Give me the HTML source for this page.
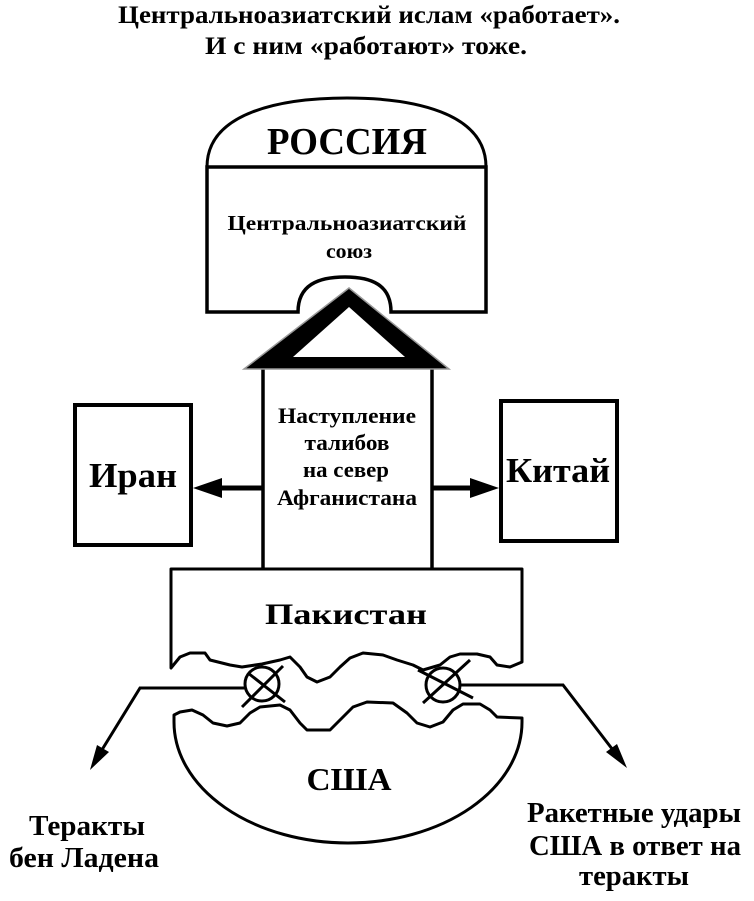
<!DOCTYPE html>
<html>
<head>
<meta charset="utf-8">
<style>
html,body{margin:0;padding:0;background:#fff;}
svg{display:block;}
text{font-family:"Liberation Serif","DejaVu Serif",serif;font-weight:bold;fill:#000;}
</style>
</head>
<body>
<svg width="754" height="901" viewBox="0 0 754 901" xmlns="http://www.w3.org/2000/svg">
<rect width="754" height="901" fill="#fff"/>

<!-- Title -->
<text x="369" y="23" font-size="25" text-anchor="middle" textLength="502" lengthAdjust="spacingAndGlyphs">Центральноазиатский ислам «работает».</text>
<text x="366" y="54" font-size="25" text-anchor="middle" textLength="322" lengthAdjust="spacingAndGlyphs">И с ним «работают» тоже.</text>

<!-- Russia -->
<path d="M207,167 C207,112 282,98 347,98 C412,98 486,112 486,167" fill="none" stroke="#000" stroke-width="3"/>
<path d="M207,167 L486,167 L486,312 L391,312 C391,285 372,277 345,277 C318,277 298,285 298,312 L207,312 Z" fill="#fff" stroke="#000" stroke-width="3.5" stroke-linejoin="miter"/>
<text x="347" y="154" font-size="38" text-anchor="middle" textLength="160" lengthAdjust="spacingAndGlyphs">РОССИЯ</text>
<text x="347" y="230" font-size="21" text-anchor="middle" textLength="239" lengthAdjust="spacingAndGlyphs">Центральноазиатский</text>
<text x="349" y="258" font-size="21" text-anchor="middle" textLength="46" lengthAdjust="spacingAndGlyphs">союз</text>

<!-- Tower -->
<line x1="263" y1="366" x2="263" y2="570" stroke="#000" stroke-width="3.5"/>
<line x1="432" y1="366" x2="432" y2="570" stroke="#000" stroke-width="3.5"/>
<polygon points="349,288 244,369 449,369" fill="#000" stroke="#999" stroke-width="1.5"/>
<polygon points="349,307 293,357 405,357" fill="#fff"/>

<text x="347" y="423" font-size="22" text-anchor="middle" textLength="138" lengthAdjust="spacingAndGlyphs">Наступление</text>
<text x="347" y="450" font-size="22" text-anchor="middle" textLength="85" lengthAdjust="spacingAndGlyphs">талибов</text>
<text x="346" y="477" font-size="22" text-anchor="middle" textLength="86" lengthAdjust="spacingAndGlyphs">на север</text>
<text x="347" y="505" font-size="22" text-anchor="middle" textLength="140" lengthAdjust="spacingAndGlyphs">Афганистана</text>

<!-- Iran -->
<rect x="75" y="405" width="116" height="140" fill="#fff" stroke="#000" stroke-width="4"/>
<text x="133" y="487" font-size="35" text-anchor="middle" textLength="88" lengthAdjust="spacingAndGlyphs">Иран</text>
<line x1="263" y1="488" x2="218" y2="488" stroke="#000" stroke-width="5"/>
<polygon points="193,488 222,478 222,498" fill="#000"/>

<!-- China -->
<rect x="501" y="401" width="116" height="140" fill="#fff" stroke="#000" stroke-width="4"/>
<text x="558" y="482" font-size="35" text-anchor="middle" textLength="104" lengthAdjust="spacingAndGlyphs">Китай</text>
<line x1="432" y1="488" x2="474" y2="488" stroke="#000" stroke-width="5"/>
<polygon points="499,488 470,478 470,498" fill="#000"/>

<!-- Pakistan -->
<path d="M171,668 L171,569 L522,569 L522,662 L510,667 L497,665 L490,657 L477,654 L460,654 L450,657 L440,665 L423,670 L413,665 L397,660 L383,655 L363,653 L350,658 L340,667 L330,677 L317,682 L307,677 L300,667 L290,657 L280,660 L262,664 L242,667 L230,665 L210,660 L205,653 L190,653 L180,657 Z" fill="#fff" stroke="#000" stroke-width="3" stroke-linejoin="round"/>
<text x="346" y="624" font-size="30" text-anchor="middle" textLength="162" lengthAdjust="spacingAndGlyphs">Пакистан</text>

<!-- USA -->
<path d="M174,715 L180,712 L192,710 L203,715 L213,723 L227,726 L240,723 L250,713 L260,707 L280,705 L290,710 L300,723 L307,730 L330,730 L340,720 L353,707 L367,702 L393,703 L407,713 L417,723 L430,727 L443,722 L453,710 L463,704 L480,704 L490,710 L497,717 L522,718 L522,722 A174,121 0 0 1 174,722 Z" fill="#fff" stroke="#000" stroke-width="3" stroke-linejoin="round"/>
<text x="349" y="790" font-size="32" text-anchor="middle" textLength="85" lengthAdjust="spacingAndGlyphs">США</text>

<!-- connectors -->
<polyline points="246,688 140,688 100,753" fill="none" stroke="#000" stroke-width="3"/>
<polygon points="90,770 109,752 97,745" fill="#000"/>
<polyline points="460,685 563,685 616,754" fill="none" stroke="#000" stroke-width="3"/>
<polygon points="627,768 617,744 606,752" fill="#000"/>

<!-- circles -->
<circle cx="262" cy="684" r="17" fill="#fff" stroke="#000" stroke-width="3"/>
<line x1="242" y1="707" x2="283" y2="666" stroke="#000" stroke-width="3"/>
<line x1="248" y1="673" x2="285" y2="702" stroke="#000" stroke-width="3"/>
<circle cx="443" cy="685" r="17" fill="#fff" stroke="#000" stroke-width="3"/>
<line x1="418" y1="670" x2="473" y2="698" stroke="#000" stroke-width="3"/>
<line x1="423" y1="703" x2="470" y2="660" stroke="#000" stroke-width="3"/>

<!-- bottom labels -->
<text x="87" y="835" font-size="29" text-anchor="middle" textLength="116" lengthAdjust="spacingAndGlyphs">Теракты</text>
<text x="84" y="867" font-size="29" text-anchor="middle" textLength="150" lengthAdjust="spacingAndGlyphs">бен Ладена</text>

<text x="634" y="822" font-size="29" text-anchor="middle" textLength="214" lengthAdjust="spacingAndGlyphs">Ракетные удары</text>
<text x="635" y="855" font-size="29" text-anchor="middle" textLength="212" lengthAdjust="spacingAndGlyphs">США в ответ на</text>
<text x="634" y="885" font-size="29" text-anchor="middle" textLength="110" lengthAdjust="spacingAndGlyphs">теракты</text>
</svg>
</body>
</html>
